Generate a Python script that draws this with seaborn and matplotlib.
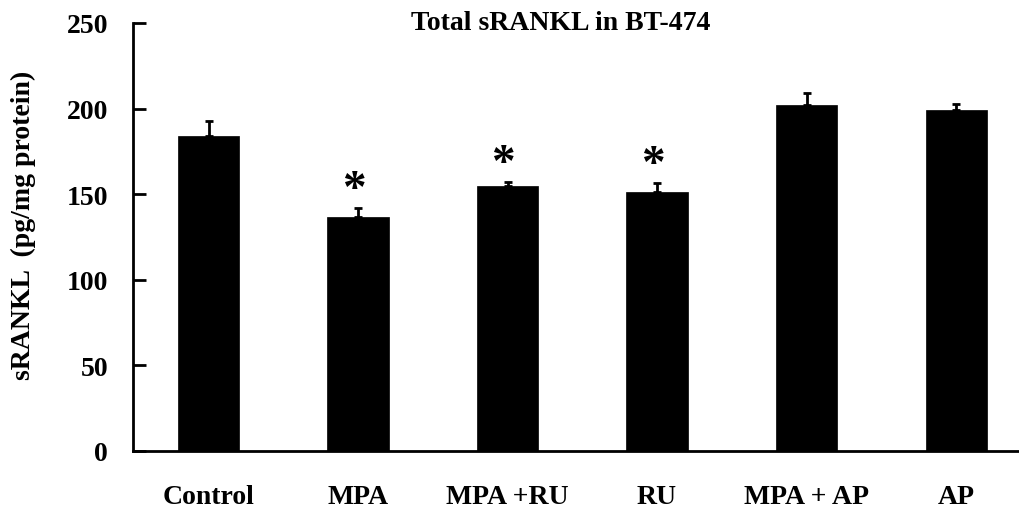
import matplotlib
matplotlib.use("Agg")
import matplotlib.pyplot as plt
import seaborn as sns
import pandas as pd
import numpy as np

groups = ["Control", "MPA", "MPA +RU", "RU", "MPA + AP", "AP"]
means = [184, 136.5, 154.5, 151.5, 202, 199]
errors = [9, 5.5, 2.5, 5, 7, 3.5]
signif = ["", "*", "*", "*", "", ""]
yticks = [0, 50, 100, 150, 200, 250]

sns.set_theme(style="white")
plt.rcParams["font.family"] = ["Liberation Serif", "DejaVu Serif"]
plt.rcParams["font.weight"] = "bold"
plt.rcParams["text.color"] = "black"
plt.rcParams["axes.labelcolor"] = "black"
plt.rcParams["xtick.color"] = "black"
plt.rcParams["ytick.color"] = "black"

df = pd.DataFrame({"group": groups, "value": means})

fig = plt.figure(figsize=(10.19, 5.10), dpi=100)
ax = fig.add_axes([133 / 1019, 1 - 452 / 510, 1 - 133 / 1019, (452 - 24) / 510])

sns.barplot(data=df, x="group", y="value", color="black", saturation=1,
            width=0.41, ax=ax, errorbar=None, edgecolor="black", linewidth=0.5)

xs = np.arange(len(groups))
ax.errorbar(xs, means, yerr=[np.zeros(len(errors)), errors], fmt="none",
            ecolor="black", elinewidth=2, capsize=3, capthick=2, zorder=3)

for x, m, e, s in zip(xs, means, errors, signif):
    if s:
        ax.text(x - 0.03, m + e + 4, s, ha="center", va="baseline",
                fontsize=34, fontweight="bold", color="black")

ax.set_xlim(-0.505, 5.42)
ax.set_ylim(0, 250)
ax.set_yticks(yticks)
ax.set_yticklabels([str(t) for t in yticks], fontsize=20, fontweight="bold", color="black")
ax.set_xticks(xs)
ax.set_xticklabels(groups, fontsize=20, fontweight="bold", color="black")
ax.set_xlabel("")
ax.set_ylabel("sRANKL  (pg/mg protein)", fontsize=20, fontweight="bold", color="black")
ax.yaxis.set_label_coords((36 - 133) / 886, (452 - 225) / 428)

for side in ["top", "right"]:
    ax.spines[side].set_visible(False)
for side in ["left", "bottom"]:
    ax.spines[side].set_visible(True)
    ax.spines[side].set_color("black")
    ax.spines[side].set_linewidth(2)

ax.tick_params(axis="y", direction="in", length=9, width=2, left=True, pad=18, colors="black")
ax.tick_params(axis="x", length=0, pad=24, colors="black")
ax.grid(False)

fig.text(561 / 1019, 1 - 24 / 510, "Total sRANKL in BT-474", ha="center", va="center",
         fontsize=20, fontweight="bold", color="black")

fig.savefig("out.png", dpi=100)
